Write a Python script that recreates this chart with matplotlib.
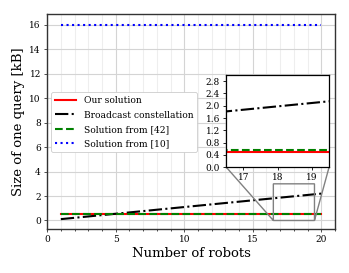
import matplotlib
matplotlib.use('Agg')
import matplotlib.pyplot as plt
from matplotlib.ticker import MultipleLocator

plt.rcParams['font.family'] = ['DejaVu Serif']

# data
robots = [1, 2, 3, 4, 5, 6, 7, 8, 9, 10, 11, 12, 13, 14, 15, 16, 17, 18, 19, 20]
ours = [0.5] * 20
broadcast = [0.11, 0.22, 0.33, 0.44, 0.55, 0.66, 0.77, 0.88, 0.99, 1.10,
             1.21, 1.32, 1.43, 1.54, 1.65, 1.76, 1.87, 1.98, 2.09, 2.20]
sol42 = [0.57] * 20
sol10 = [16.0] * 20

labels = ['Our solution', 'Broadcast constellation',
          'Solution from [42]', 'Solution from [10]']


def draw(a, lw=1.5):
    a.plot(robots, ours, color='red', lw=lw, ls='-', label=labels[0])
    a.plot(robots, broadcast, color='black', lw=lw, ls='-.', label=labels[1])
    a.plot(robots, sol42, color='green', lw=lw, ls='--', label=labels[2])
    a.plot(robots, sol10, color='blue', lw=lw, ls=':', label=labels[3])


fig = plt.figure(figsize=(3.49, 2.73), dpi=100)
ax = fig.add_axes([0.135, 0.161, 0.825, 0.788])
draw(ax)

ax.set_xlim(0, 21)
ax.set_ylim(-0.7, 16.9)
ax.xaxis.set_major_locator(MultipleLocator(5))
ax.xaxis.set_minor_locator(MultipleLocator(1))
ax.yaxis.set_major_locator(MultipleLocator(2))
ax.grid(True, which='major', color='#d4d4d4', lw=0.8)
ax.grid(True, which='minor', axis='x', color='#eeeeee', lw=0.8)
ax.tick_params(labelsize=6.5, length=2.5, width=0.6, color='#333333', pad=2)
ax.tick_params(which='minor', length=1.5, width=0.5)
for s in ax.spines.values():
    s.set_color('#333333')
    s.set_linewidth(1.0)
ax.set_xlabel('Number of robots', fontsize=9.5, labelpad=2)
ax.set_ylabel('Size of one query [kB]', fontsize=9.5, labelpad=3)

leg = ax.legend(loc='upper left', bbox_to_anchor=(0.015, 0.635), fontsize=6.6,
                frameon=True, framealpha=1.0, edgecolor='#cccccc',
                handlelength=2.3, borderpad=0.4, labelspacing=0.6,
                borderaxespad=0)
leg.get_frame().set_linewidth(0.6)

# inset
axins = fig.add_axes([0.648, 0.388, 0.295, 0.337])
draw(axins)
axins.set_xlim(16.5, 19.5)
axins.set_ylim(0, 3.0)
axins.set_xticks([17, 18, 19])
axins.set_yticks([0.0, 0.4, 0.8, 1.2, 1.6, 2.0, 2.4, 2.8])
axins.tick_params(labelsize=6.5, length=2.5, width=0.6, pad=2)
axins.grid(False)
for s in axins.spines.values():
    s.set_color('black')
    s.set_linewidth(0.9)

ind = ax.indicate_inset_zoom(axins, edgecolor='gray', alpha=1.0, linewidth=1.0)
conns = ind.connectors
for c, vis in zip(conns, [True, False, True, False]):
    c.set_visible(vis)

fig.savefig('out.png', dpi=100)
